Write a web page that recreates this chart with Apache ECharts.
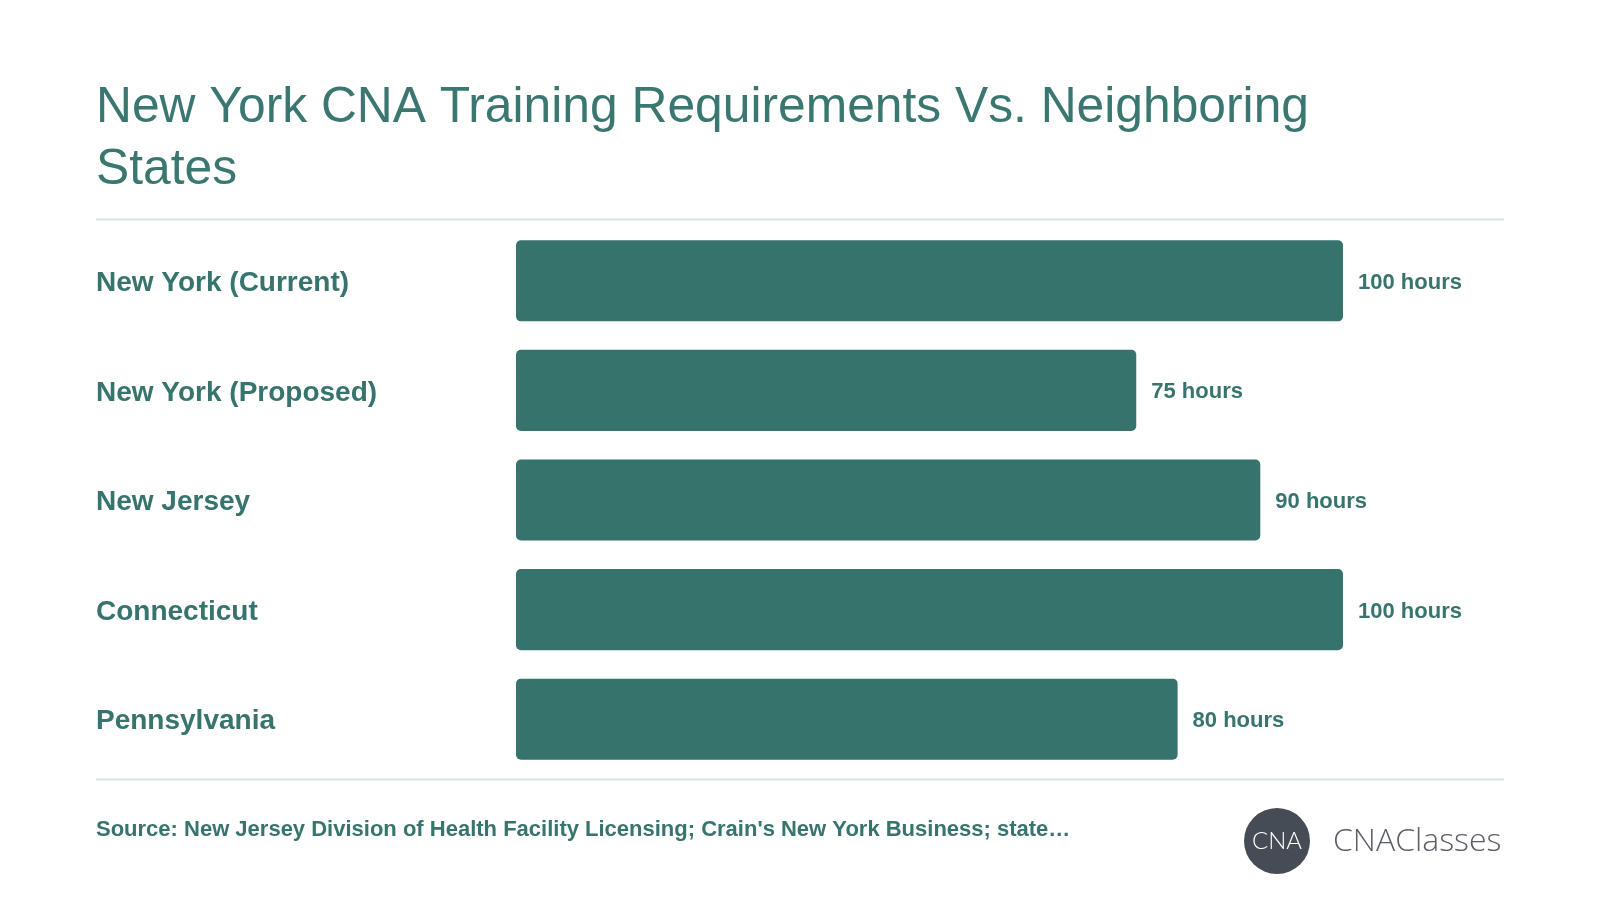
<!DOCTYPE html>
<html>
<head>
<meta charset="utf-8">
<script src="https://cdn.jsdelivr.net/npm/echarts@6/dist/echarts.min.js"></script>
<style>
  html, body { margin: 0; padding: 0; background: #fff; }
  #chart { width: 1600px; height: 900px; }
</style>
</head>
<body>
<div id="chart"></div>
<script>
  // data
  var states = ['New York (Current)', 'New York (Proposed)', 'New Jersey', 'Connecticut', 'Pennsylvania'];
  var hours = [100, 75, 90, 100, 80];

  var teal = '#36746d';
  var font = '"Liberation Sans", Arial, sans-serif';

  var chart = echarts.init(document.getElementById('chart'));

  var option = {
    backgroundColor: '#ffffff',
    title: {
      text: 'New York CNA Training Requirements Vs. Neighboring\nStates',
      left: 96,
      top: 77,
      padding: 0,
      textStyle: {
        color: '#3a7770',
        fontFamily: font,
        fontWeight: 'normal',
        fontSize: 49.75,
        lineHeight: 62
      }
    },
    grid: {
      left: 516,
      width: 827,
      top: 226,
      height: 548
    },
    xAxis: {
      type: 'value',
      min: 0,
      max: 100,
      show: false
    },
    yAxis: {
      type: 'category',
      data: states,
      inverse: true,
      axisLine: { show: false },
      axisTick: { show: false },
      axisLabel: {
        align: 'left',
        margin: 420,
        formatter: function (v) {
          return '{s|' + v + '}';
        },
        rich: {
          s: {
            padding: [5, 0, 0, 0],
            color: teal,
            fontFamily: font,
            fontWeight: 'bold',
            fontSize: 28
          }
        }
      }
    },
    series: [
      {
        type: 'bar',
        data: hours,
        barCategoryGap: '26%',
        itemStyle: {
          color: '#35736c',
          borderRadius: 5
        },
        label: {
          show: true,
          position: 'right',
          distance: 15,
          offset: [0, 2],
          formatter: '{c} hours',
          color: teal,
          fontFamily: font,
          fontWeight: 'bold',
          fontSize: 22
        }
      }
    ],
    graphic: [
      {
        type: 'line',
        shape: { x1: 96, y1: 219.5, x2: 1504, y2: 219.5 },
        style: { stroke: '#d6e4e2', lineWidth: 2 }
      },
      {
        type: 'line',
        shape: { x1: 96, y1: 779.5, x2: 1504, y2: 779.5 },
        style: { stroke: '#d6e4e2', lineWidth: 2 }
      },
      {
        type: 'text',
        left: 96,
        top: 819,
        style: {
          text: "Source: New Jersey Division of Health Facility Licensing; Crain's New York Business; state…",
          fill: teal,
          font: 'bold 22px ' + font
        }
      },
      {
        type: 'circle',
        shape: { cx: 1277, cy: 841, r: 33 },
        style: { fill: '#464c55' }
      },
      {
        type: 'text',
        x: 1277,
        y: 841,
        style: {
          text: 'CNA',
          fill: '#ffffff',
          font: '300 24px Lato, "Open Sans", sans-serif',
          align: 'center',
          verticalAlign: 'middle'
        }
      },
      {
        type: 'text',
        x: 1333,
        y: 842,
        style: {
          text: 'CNAClasses',
          fill: '#5a5f66',
          font: '300 32px "Open Sans", Lato, sans-serif',
          align: 'left',
          verticalAlign: 'middle'
        }
      }
    ]
  };

  chart.setOption(option);
</script>
</body>
</html>
